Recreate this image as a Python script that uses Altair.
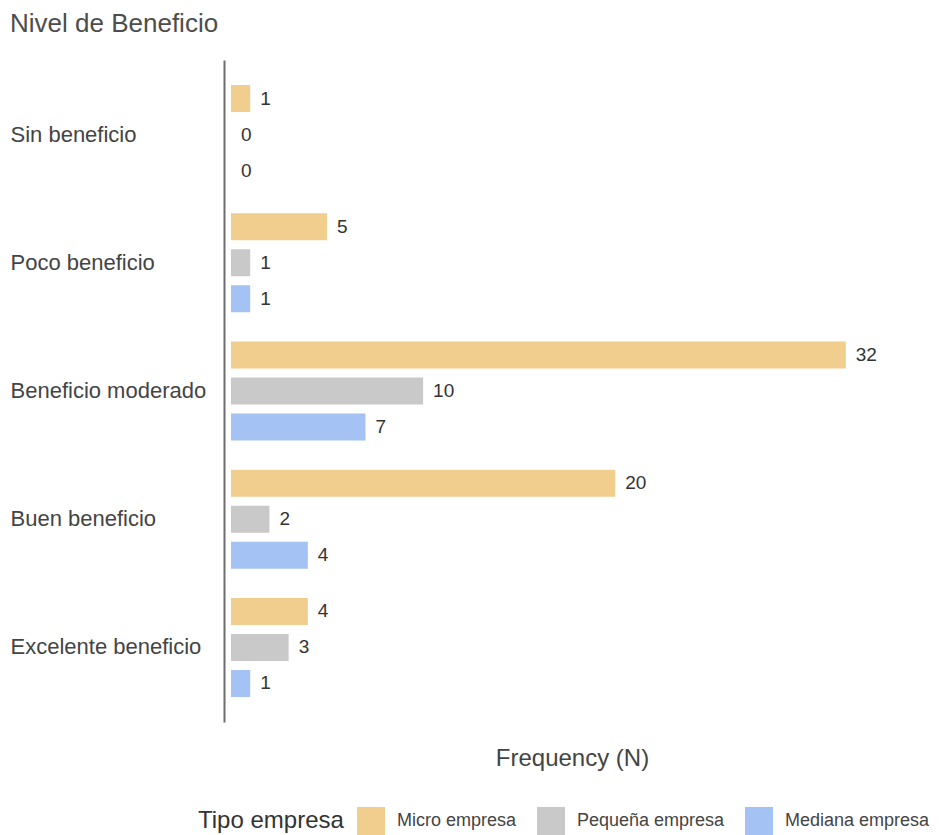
import altair as alt
import pandas as pd

titulo = "Nivel de Beneficio"
niveles = ["Sin beneficio", "Poco beneficio", "Beneficio moderado", "Buen beneficio", "Excelente beneficio"]
tipos = ["Micro empresa", "Pequeña empresa", "Mediana empresa"]
micro = [1, 5, 32, 20, 4]
pequena = [0, 1, 10, 2, 3]
mediana = [0, 1, 7, 4, 1]
colores = ["#f1cd8e", "#c9c9c9", "#a4c2f4"]

rows = []
for serie, tipo in zip([micro, pequena, mediana], tipos):
    for nivel, v in zip(niveles, serie):
        rows.append({"Nivel": nivel, "Tipo": tipo, "N": v})
df = pd.DataFrame(rows)

FONT = "Liberation Sans"

y_enc = alt.Y("Nivel:N", sort=niveles,
              scale=alt.Scale(paddingInner=0.228, paddingOuter=0.195),
              axis=alt.Axis(title=None, ticks=False, tickSize=0, labelPadding=214, labelAlign="left",
                            labelLimit=0,
                            labelFont=FONT, labelFontSize=22, labelColor="#444444",
                            domain=True, domainColor="#6e6e6e", domainWidth=2, offset=7, grid=False))
yoff_enc = alt.YOffset("Tipo:N", sort=tipos, scale=alt.Scale(paddingInner=0.25, paddingOuter=0))
x_enc = alt.X("N:Q", scale=alt.Scale(domain=[0, 35.5], nice=False),
              axis=alt.Axis(title="Frequency (N)", labels=False, ticks=False, domain=False, grid=False,
                            titleFont=FONT, titleFontSize=24, titleFontWeight="normal", titleColor="#444444",
                            titleBaseline="alphabetic", titleAlign="center", titleX=341, titleY=43))

bars = alt.Chart(df).mark_bar().encode(
    x=x_enc,
    y=y_enc,
    yOffset=yoff_enc,
    color=alt.Color("Tipo:N", sort=tipos, scale=alt.Scale(domain=tipos, range=colores),
                    legend=alt.Legend(orient="none", legendX=-33, legendY=747, direction="horizontal",
                                      titleOrient="left", title="Tipo empresa",
                                      titleFont=FONT, titleFontSize=24, titleFontWeight="normal",
                                      titleColor="#333333", labelFont=FONT, labelFontSize=18,
                                      labelColor="#444444", symbolType="square", symbolSize=784,
                                      symbolStrokeWidth=0, symbolOpacity=1, labelOffset=12,
                                      columnPadding=20, titlePadding=13, padding=0, labelLimit=0)),
)

labels = alt.Chart(df).mark_text(align="left", baseline="middle", dx=10, font=FONT, fontSize=19,
                                 color="#333333").encode(
    x="N:Q",
    y=alt.Y("Nivel:N", sort=niveles),
    yOffset=alt.YOffset("Tipo:N", sort=tipos),
    text="N:Q",
)

title_mark = alt.Chart(pd.DataFrame({"t": [titulo]})).mark_text(
    align="left", baseline="alphabetic", font=FONT, fontSize=26, color="#4d4d4d"
).encode(text="t:N", x=alt.value(-221), y=alt.value(-28))

chart = alt.layer(bars, labels, title_mark).properties(
    width=682, height=662,
    autosize=alt.AutoSizeParams(type="none"),
    padding={"left": 223, "top": 52, "right": 24, "bottom": 113},
).configure_view(stroke=None)

chart.save("out.html", embed_options={"renderer": "svg", "actions": False})
